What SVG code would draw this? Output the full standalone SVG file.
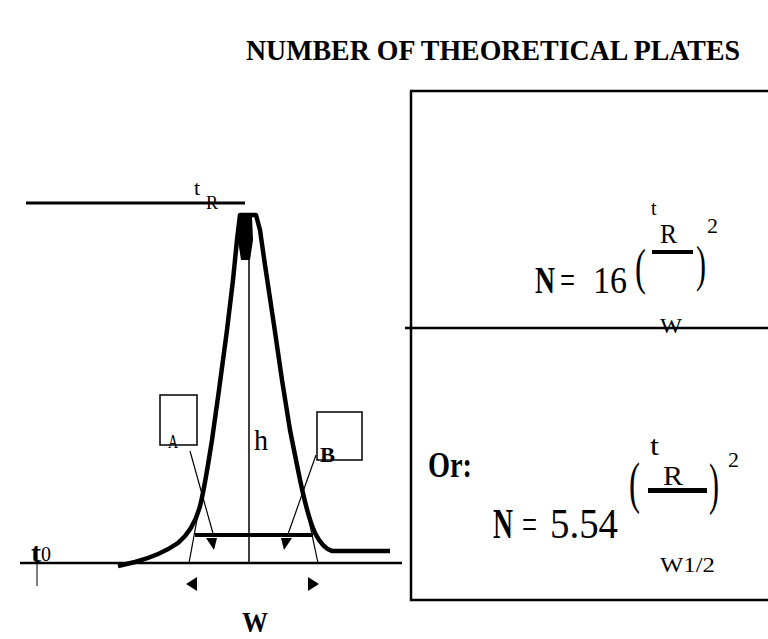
<svg xmlns="http://www.w3.org/2000/svg" width="768" height="639" viewBox="0 0 768 639">
<style>
.s{font-family:"Liberation Serif","Times New Roman",serif;fill:#000}
.b{font-weight:bold}
.ln{stroke:#000;fill:none}
</style>
<rect width="768" height="639" fill="#fff"/>
<g id="title">
<text class="s b" x="246" y="60" font-size="29.5" textLength="494" lengthAdjust="spacingAndGlyphs">NUMBER OF THEORETICAL PLATES</text>
</g>
<g id="chromatogram">
<line class="ln" x1="26" y1="203" x2="245" y2="203" stroke-width="3"/>
<text class="s" x="194" y="195" font-size="22">t</text>
<text class="s" x="206" y="209" font-size="18" textLength="12" lengthAdjust="spacingAndGlyphs">R</text>
<line class="ln" x1="20" y1="563" x2="402" y2="563" stroke-width="2.5"/>
<text class="s b" x="31" y="562" font-size="28" textLength="10" lengthAdjust="spacingAndGlyphs">t</text>
<text class="s" x="41" y="561" font-size="20" textLength="10" lengthAdjust="spacingAndGlyphs">0</text>
<line class="ln" x1="37" y1="563" x2="37" y2="586" stroke-width="1"/>
<path class="ln" stroke-width="4.5" stroke-linejoin="round" d="M118,566 L135,562 C150,558 165,552 178,543 C190,533 197,520 201,502 C205,485 208,465 212,440 L219,390 L227,330 L233,280 L237,240 L240,215 L256,215 L260,230 L265,265 L274,325 L282,380 L290,430 L298,470 C303,495 308,518 315,533 C320,543 325,549 332,551 L390,551"/>
<path d="M238,217 L252,217 L253,240 L250,260 L241,260 L238,240 Z" fill="#000"/>
<line class="ln" x1="249" y1="215" x2="249" y2="563" stroke-width="1.5"/>
<line class="ln" x1="195" y1="535" x2="313" y2="535" stroke-width="4"/>
<line class="ln" x1="203" y1="487" x2="189" y2="563" stroke-width="1.2"/>
<line class="ln" x1="301" y1="483" x2="318" y2="563" stroke-width="1.2"/>
<line class="ln" x1="190" y1="451" x2="214" y2="537" stroke-width="1.2"/>
<line class="ln" x1="316" y1="455" x2="287" y2="537" stroke-width="1.2"/>
<path d="M206,538 L217,538 L214,550 Z" fill="#000"/>
<path d="M281,538 L292,538 L284,550 Z" fill="#000"/>
<path d="M186,584 L197,577 L197,591 Z" fill="#000"/>
<path d="M319,584 L308,577 L308,591 Z" fill="#000"/>
<rect class="ln" x="160" y="395" width="37" height="50" stroke-width="1.5"/>
<rect class="ln" x="317" y="412" width="45" height="48" stroke-width="1.5"/>
<text class="s" x="168" y="448" font-size="18" textLength="10" lengthAdjust="spacingAndGlyphs">A</text>
<text class="s b" x="320" y="462" font-size="22" textLength="15" lengthAdjust="spacingAndGlyphs">B</text>
<text class="s" x="254" y="450" font-size="30" textLength="14" lengthAdjust="spacingAndGlyphs">h</text>
<text class="s b" x="242" y="632" font-size="29" textLength="26" lengthAdjust="spacingAndGlyphs">W</text>
</g>
<g id="formula-box">
<line class="ln" x1="410" y1="91" x2="768" y2="91" stroke-width="2.5"/>
<line class="ln" x1="411" y1="91" x2="411" y2="601" stroke-width="2.5"/>
<line class="ln" x1="405" y1="328" x2="768" y2="328" stroke-width="2.5"/>
<line class="ln" x1="410" y1="600" x2="768" y2="600" stroke-width="2.5"/>
</g>
<g id="formula-w">
<text class="s b" x="535" y="293" font-size="37" textLength="20" lengthAdjust="spacingAndGlyphs">N</text>
<text class="s" x="560" y="293" font-size="37" textLength="15" lengthAdjust="spacingAndGlyphs">=</text>
<text class="s" x="593" y="293" font-size="37" textLength="34" lengthAdjust="spacingAndGlyphs">16</text>
<text class="s" x="635" y="284" font-size="50" textLength="11" lengthAdjust="spacingAndGlyphs">(</text>
<text class="s" x="696" y="281" font-size="50" textLength="10" lengthAdjust="spacingAndGlyphs">)</text>
<text class="s" x="651" y="215" font-size="20">t</text>
<text class="s" x="660" y="243" font-size="28" textLength="17" lengthAdjust="spacingAndGlyphs">R</text>
<rect x="652" y="250" width="41" height="4" fill="#000"/>
<text class="s" x="707" y="233" font-size="22">2</text>
<text class="s" x="660" y="333" font-size="22" textLength="22" lengthAdjust="spacingAndGlyphs">W</text>
</g>
<g id="formula-w-half">
<text class="s b" x="428" y="477" font-size="36" textLength="44" lengthAdjust="spacingAndGlyphs">Or:</text>
<text class="s b" x="493" y="538" font-size="42" textLength="20" lengthAdjust="spacingAndGlyphs">N</text>
<text class="s" x="522" y="538" font-size="42" textLength="15" lengthAdjust="spacingAndGlyphs">=</text>
<text class="s" x="550" y="538" font-size="42" textLength="68" lengthAdjust="spacingAndGlyphs">5.54</text>
<text class="s" x="629" y="502" font-size="56" textLength="11" lengthAdjust="spacingAndGlyphs">(</text>
<text class="s" x="709" y="503" font-size="56" textLength="10" lengthAdjust="spacingAndGlyphs">)</text>
<text class="s" x="650" y="455" font-size="28" textLength="9" lengthAdjust="spacingAndGlyphs">t</text>
<text class="s" x="663" y="485" font-size="28" textLength="20" lengthAdjust="spacingAndGlyphs">R</text>
<rect x="648" y="488" width="59" height="5" fill="#000"/>
<text class="s" x="728" y="467" font-size="22">2</text>
<text class="s" x="660" y="572" font-size="22" textLength="55" lengthAdjust="spacingAndGlyphs">W1/2</text>
</g>
</svg>
